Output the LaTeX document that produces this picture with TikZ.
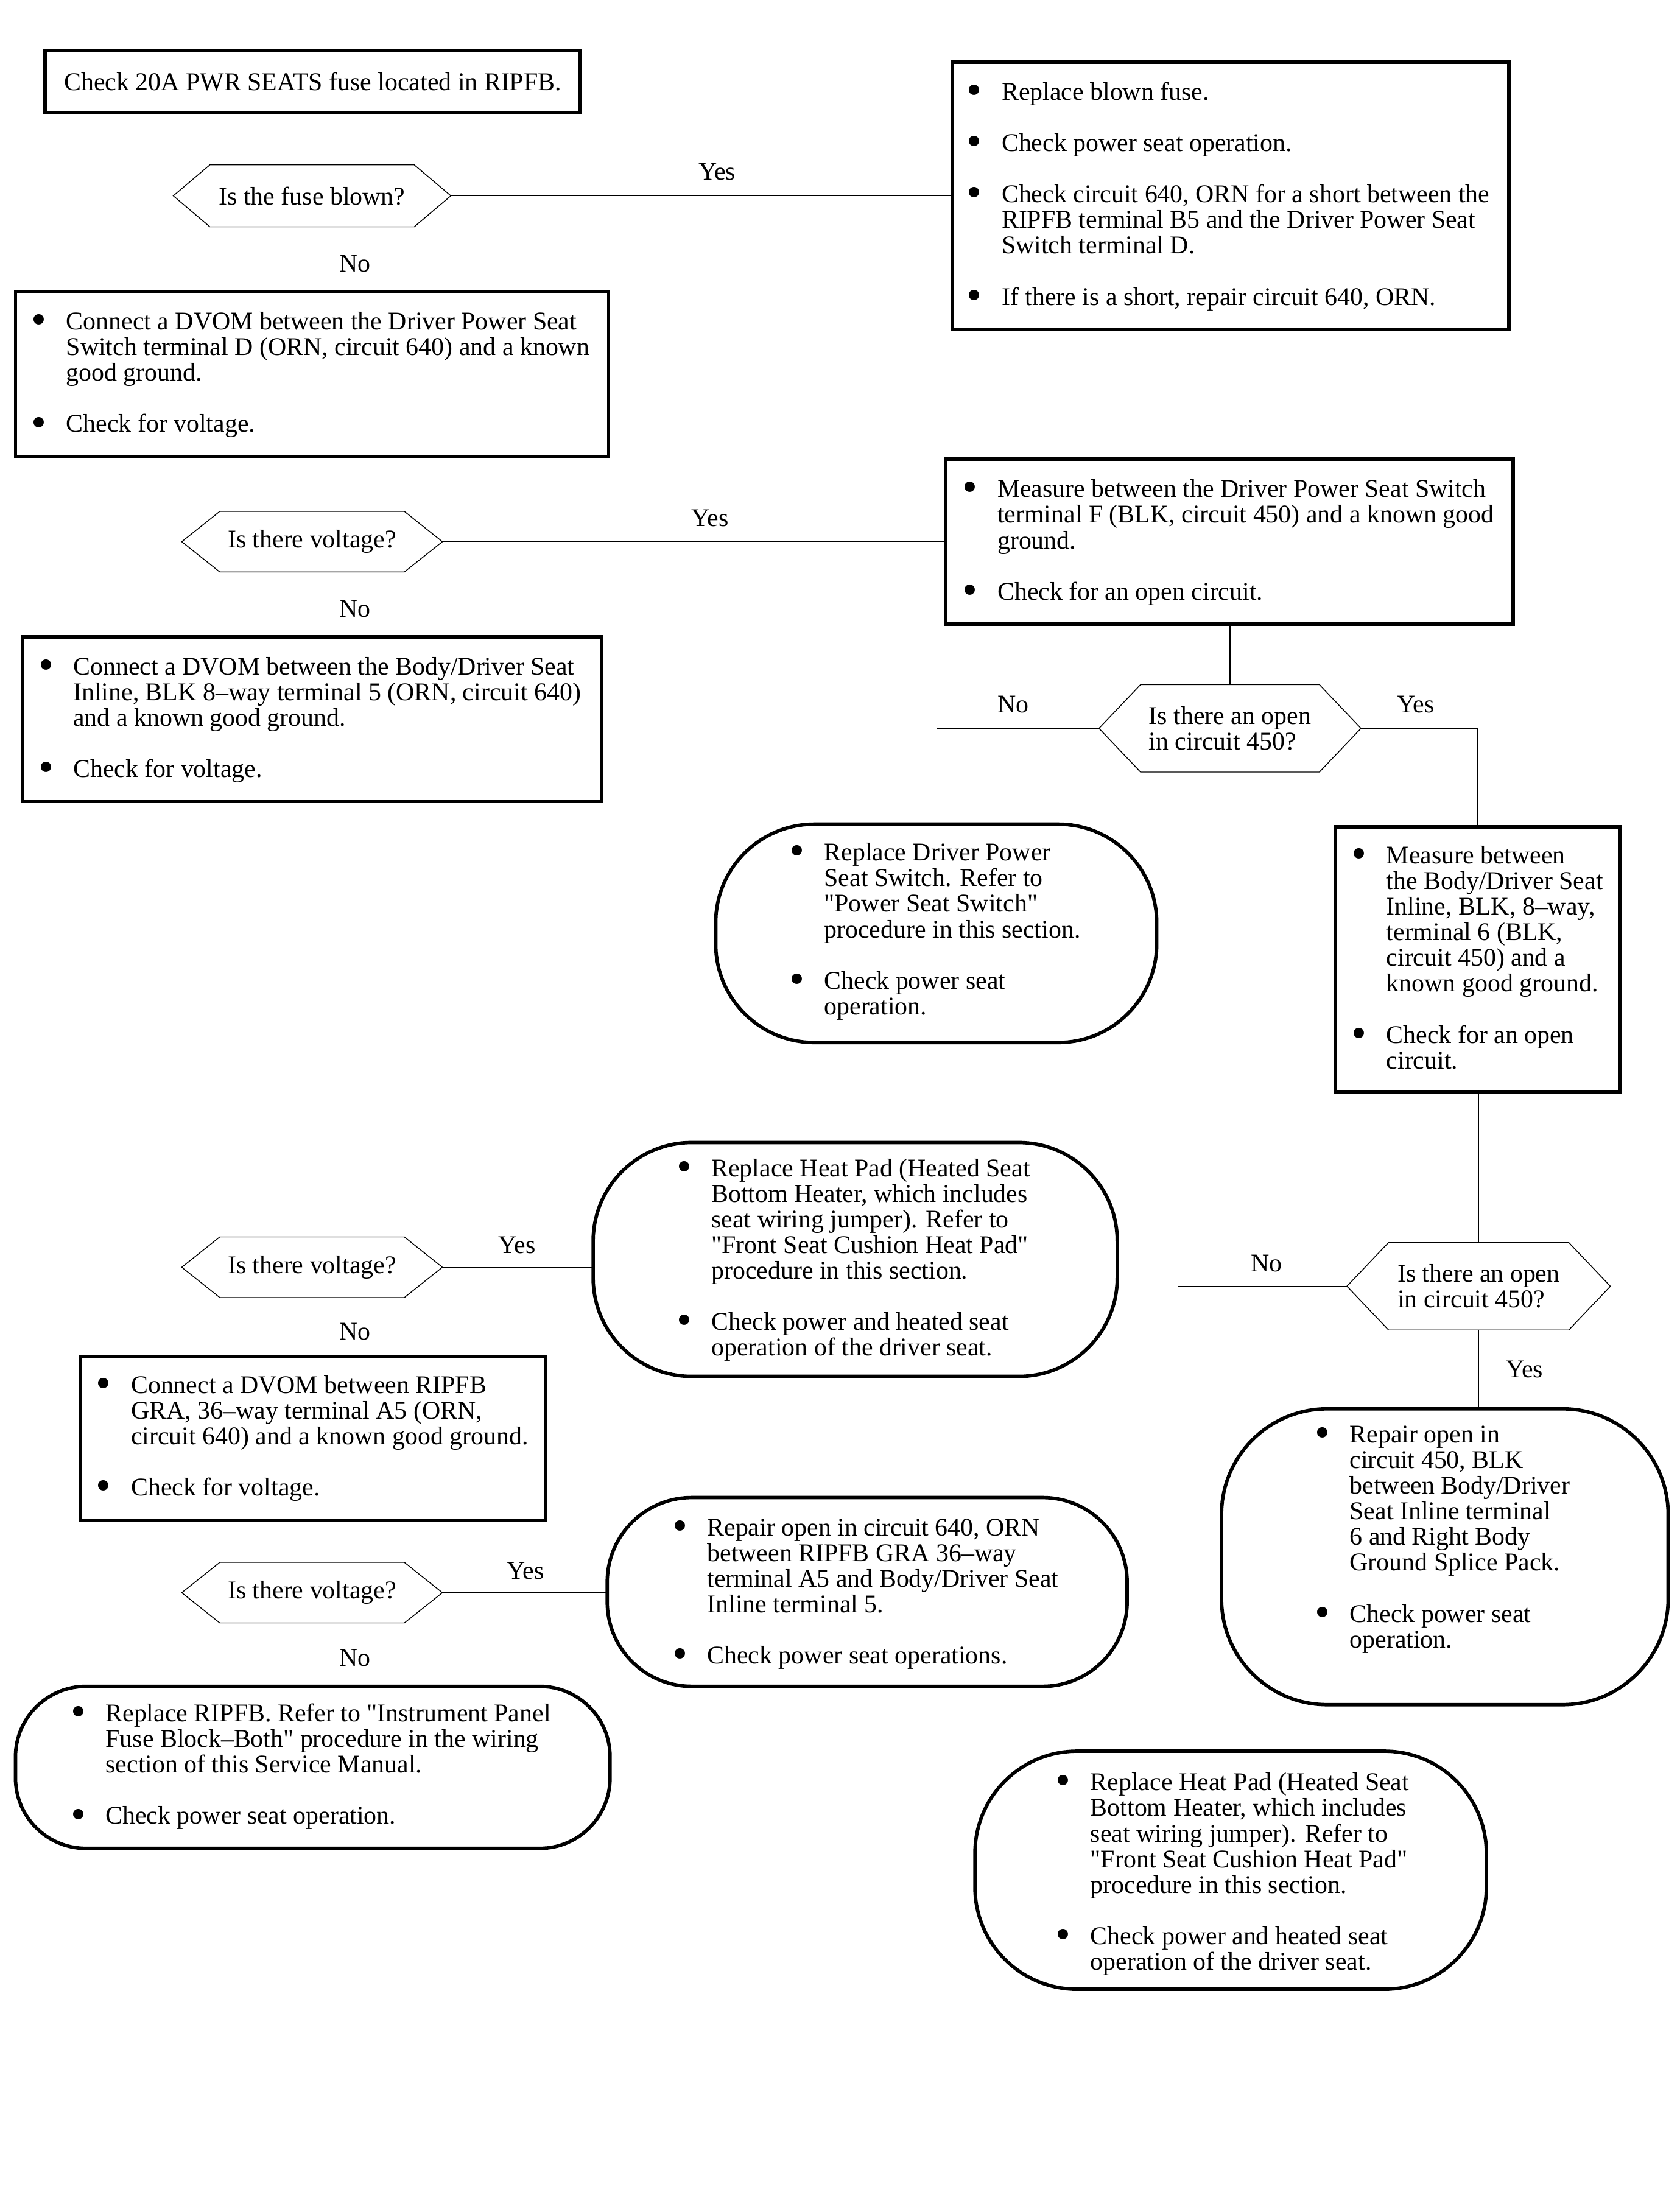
\documentclass[tikz,border=0pt]{standalone}
\usepackage{fontspec}
\setmainfont{Liberation Serif}[Ligatures=TeXOff]
\usetikzlibrary{calc}
\newcommand{\bu}{\llap{\raisebox{-0.17em}{\scalebox{1.7}{\textbullet}}\hspace{0.28cm}}}
\newcommand{\boxnode}[6]{%
  \node[#1, minimum width={(#5-#3)*0.02cm}, minimum height={(#6-#4)*0.02cm}] (#2) at ({(#3+#5)/2},{(#4+#6)/2}) {};}
\newcommand{\hexnode}[7]{%
  \node[hexn, minimum width={(#3-#2)*0.02cm}, minimum height={(#5-#4)*0.02cm}] (#1) at ({(#2+#3)/2},{(#4+#5)/2}) {#7};
  \draw[thinl] (#1.west) -- ($(#1.north west)+(#6,0)$) -- ($(#1.north east)+(-#6,0)$) -- (#1.east) -- ($(#1.south east)+(-#6,0)$) -- ($(#1.south west)+(#6,0)$) -- cycle;}
\tikzset{
  every node/.style={font=\fontsize{10.3}{10.36}\selectfont},
  sq/.style={draw, line width=1.4pt, inner sep=0pt, outer sep=0pt, rectangle},
  rnd/.style={draw, line width=1.4pt, inner sep=0pt, outer sep=0pt, rectangle, rounded corners=#1},
  hexn/.style={inner sep=0pt, outer sep=0pt, align=left},
  thinl/.style={line width=0.35pt},
  txt/.style={anchor=base west, inner sep=0pt, outer sep=0pt},
  lab/.style={inner sep=0pt}
}
\begin{document}
\begin{tikzpicture}[x=0.02cm, y=-0.02cm]
\fill[white] (0,0) rectangle (1192,1568);
\useasboundingbox (0,0) rectangle (1192,1568);

% ---- left column ----
\node[sq, minimum width={380*0.02cm}, minimum height={44*0.02cm}] (a) at (222,58) {Check 20A PWR SEATS fuse located in RIPFB.};
\hexnode{d1}{123}{320}{117}{161}{26}{Is the fuse blown?}

\boxnode{sq}{b}{676}{44}{1071}{234}
\node[txt] (bt) at (711,71) {\begin{tabular}[t]{@{}l@{}}
\bu Replace blown fuse.\\ \\
\bu Check power seat operation.\\ \\
\bu Check circuit 640, ORN for a short between the\\
RIPFB terminal B5 and the Driver Power Seat\\
Switch terminal D.\\ \\
\bu If there is a short, repair circuit 640, ORN.
\end{tabular}};

\boxnode{sq}{c}{11}{207}{432}{324}
\node[txt] (ct) at (47,234) {\begin{tabular}[t]{@{}l@{}}
\bu Connect a DVOM between the Driver Power Seat\\
Switch terminal D (ORN, circuit 640) and a known\\
good ground.\\ \\
\bu Check for voltage.
\end{tabular}};

\hexnode{d2}{129}{314}{363}{406}{27}{Is there voltage?}

\boxnode{sq}{e}{671}{326}{1074}{443}
\node[txt] (et) at (708,353) {\begin{tabular}[t]{@{}l@{}}
\bu Measure between the Driver Power Seat Switch\\
terminal F (BLK, circuit 450) and a known good\\
ground.\\ \\
\bu Check for an open circuit.
\end{tabular}};

\boxnode{sq}{f}{16}{452}{427}{569}
\node[txt] (ft) at (52,479) {\begin{tabular}[t]{@{}l@{}}
\bu Connect a DVOM between the Body/Driver Seat\\
Inline, BLK 8–way terminal 5 (ORN, circuit 640)\\
and a known good ground.\\ \\
\bu Check for voltage.
\end{tabular}};

\hexnode{d3}{129}{314}{878}{921}{27}{Is there voltage?}

\boxnode{rnd=1.4cm}{g}{421}{811}{793}{977}
\node[txt] (gt) at (505,835) {\begin{tabular}[t]{@{}l@{}}
\bu Replace Heat Pad (Heated Seat\\
Bottom Heater, which includes\\
seat wiring jumper). Refer to\\
"Front Seat Cushion Heat Pad"\\
procedure in this section.\\ \\
\bu Check power and heated seat\\
operation of the driver seat.
\end{tabular}};

\boxnode{sq}{h}{57}{963}{387}{1079}
\node[txt] (ht) at (93,989) {\begin{tabular}[t]{@{}l@{}}
\bu Connect a DVOM between RIPFB\\
GRA, 36–way terminal A5 (ORN,\\
circuit 640) and a known good ground.\\ \\
\bu Check for voltage.
\end{tabular}};

\hexnode{d4}{129}{314}{1109}{1152}{27}{Is there voltage?}

\boxnode{rnd=1.2cm}{i}{431}{1063}{800}{1197}
\node[txt] (it) at (502,1090) {\begin{tabular}[t]{@{}l@{}}
\bu Repair open in circuit 640, ORN\\
between RIPFB GRA 36–way\\
terminal A5 and Body/Driver Seat\\
Inline terminal 5.\\ \\
\bu Check power seat operations.
\end{tabular}};

\boxnode{rnd=1.0cm}{j}{11}{1197}{433}{1312}
\node[txt] (jt) at (75,1222) {\begin{tabular}[t]{@{}l@{}}
\bu Replace RIPFB. Refer to "Instrument Panel\\
Fuse Block–Both" procedure in the wiring\\
section of this Service Manual.\\ \\
\bu Check power seat operation.
\end{tabular}};

% ---- right column ----
\hexnode{d5}{780}{966}{486}{548}{29.5}{Is there an open\\in circuit 450?}

\boxnode{rnd=1.4cm}{k}{508}{585}{821}{740}
\node[txt] (kt) at (585,611) {\begin{tabular}[t]{@{}l@{}}
\bu Replace Driver Power\\
Seat Switch. Refer to\\
"Power Seat Switch"\\
procedure in this section.\\ \\
\bu Check power seat\\
operation.
\end{tabular}};

\boxnode{sq}{l}{948}{587}{1150}{775}
\node[txt] (lt) at (984,613) {\begin{tabular}[t]{@{}l@{}}
\bu Measure between\\
the Body/Driver Seat\\
Inline, BLK, 8–way,\\
terminal 6 (BLK,\\
circuit 450) and a\\
known good ground.\\ \\
\bu Check for an open\\
circuit.
\end{tabular}};

\hexnode{d6}{956}{1143}{882}{944}{29.5}{Is there an open\\in circuit 450?}

\boxnode{rnd=1.5cm}{n}{867}{1000}{1184}{1210}
\node[txt] (nt) at (958,1024) {\begin{tabular}[t]{@{}l@{}}
\bu Repair open in\\
circuit 450, BLK\\
between Body/Driver\\
Seat Inline terminal\\
6 and Right Body\\
Ground Splice Pack.\\ \\
\bu Check power seat\\
operation.
\end{tabular}};

\boxnode{rnd=1.45cm}{m}{692}{1243}{1055}{1412}
\node[txt] (mt) at (774,1271) {\begin{tabular}[t]{@{}l@{}}
\bu Replace Heat Pad (Heated Seat\\
Bottom Heater, which includes\\
seat wiring jumper). Refer to\\
"Front Seat Cushion Heat Pad"\\
procedure in this section.\\ \\
\bu Check power and heated seat\\
operation of the driver seat.
\end{tabular}};

% ---- connectors ----
\draw[thinl] (d1.north) -- (d1.north |- a.south);
\draw[thinl] (d1.east) -- (d1.east -| b.west);
\draw[thinl] (d1.south) -- (d1.south |- c.north);
\draw[thinl] (d2.north) -- (d2.north |- c.south);
\draw[thinl] (d2.east) -- (d2.east -| e.west);
\draw[thinl] (d2.south) -- (d2.south |- f.north);
\draw[thinl] (d3.north) -- (d3.north |- f.south);
\draw[thinl] (d3.east) -- (d3.east -| g.west);
\draw[thinl] (d3.south) -- (d3.south |- h.north);
\draw[thinl] (d4.north) -- (d4.north |- h.south);
\draw[thinl] (d4.east) -- (d4.east -| i.west);
\draw[thinl] (d4.south) -- (d4.south |- j.north);

\coordinate (k5) at (665,517);
\coordinate (l5) at (1049,517);
\coordinate (m6) at (836,913);
\draw[thinl] (d5.north) -- (d5.north |- e.south);
\draw[thinl] (d5.west) -- (k5) -- (k5 |- k.north);
\draw[thinl] (d5.east) -- (l5) -- (l5 |- l.north);
\draw[thinl] (d6.north) -- (d6.north |- l.south);
\draw[thinl] (d6.west) -- (m6) -- (m6 |- m.north);
\draw[thinl] (d6.south) -- (d6.south |- n.north);

% ---- labels ----
\node[lab] (y1) at (509,122) {Yes};
\node[lab] (n1) at (252,187) {No};
\node[lab] (y2) at (504,368) {Yes};
\node[lab] (n2) at (252,432) {No};
\node[lab] (y3) at (367,884) {Yes};
\node[lab] (n3) at (252,945) {No};
\node[lab] (y4) at (373,1115) {Yes};
\node[lab] (n4) at (252,1177) {No};
\node[lab] (n5) at (719,500) {No};
\node[lab] (y5) at (1005,500) {Yes};
\node[lab] (n6) at (899,897) {No};
\node[lab] (y6) at (1082,972) {Yes};
\end{tikzpicture}
\end{document}
